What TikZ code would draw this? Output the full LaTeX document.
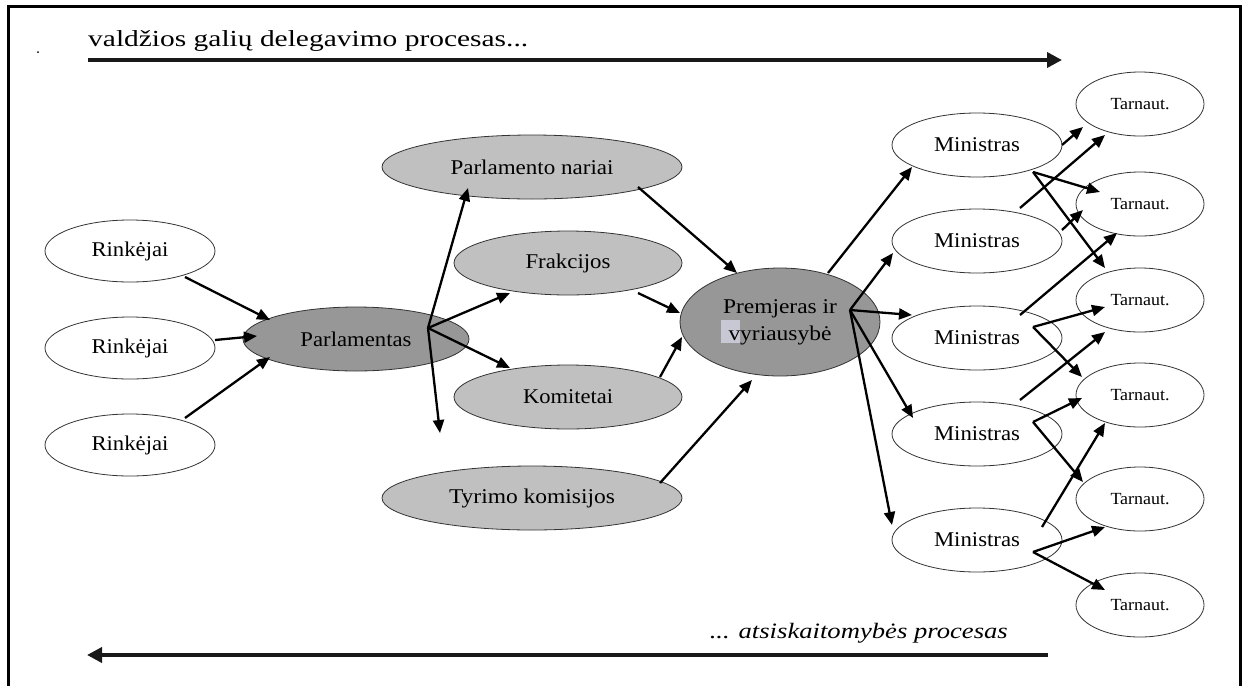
\documentclass[tikz,border=0pt]{standalone}
\usepackage{fontspec}
\setmainfont{Liberation Serif}
\usetikzlibrary{shapes.geometric,arrows.meta,calc}
\definecolor{dk}{HTML}{979797}
\definecolor{lt}{HTML}{C0C0C0}
\definecolor{hl}{HTML}{C8C8D4}
\newcommand{\sw}[2]{\resizebox{#1pt}{\height}{#2}}
\begin{document}
\begin{tikzpicture}[x=1pt,y=-1pt,
  ell/.style={ellipse,draw=black!80,line width=0.8pt,inner sep=0pt,font=\fontsize{21}{27}\selectfont},
  wnode/.style={ell,fill=white},
  dnode/.style={ell,fill=dk},
  lnode/.style={ell,fill=lt},
  tnode/.style={ell,fill=white,minimum width=128,minimum height=64,font=\fontsize{17}{18}\selectfont},
  mnode/.style={wnode,minimum width=170,minimum height=64},
  rnode/.style={wnode,minimum width=170,minimum height=62},
  arr/.style={line width=2.3pt,-{Triangle[length=13pt,width=11pt]}},
  bigarr/.style={line width=3.6pt,black!90,-{Triangle[length=15pt,width=15pt]}}]
\useasboundingbox (0,0) rectangle (1243,686);
% frame
\draw[line width=3pt] (8,686) -- (8,6) -- (1240,6) -- (1240,686);
\fill (38,52) circle (1pt);
% title and process arrows
\node[anchor=base west,inner sep=0pt,font=\fontsize{23}{25}\selectfont] (title) at (88,46) {\sw{440}{valdžios galių delegavimo procesas...}};
\coordinate (a1) at (88,60);
\coordinate (a2) at (1062,60);
\draw[bigarr] (a1) -- (a2);
\node[anchor=base east,inner sep=0pt,font=\fontsize{22}{24}\selectfont\itshape] (acc) at (1008,638) {\sw{298}{... atsiskaitomybės procesas}};
\coordinate (b1) at (1048,655);
\coordinate (b2) at (87,655);
\draw[bigarr] (b1) -- (b2);
% nodes
\node[rnode] (r1) at (130,251) {\sw{77}{Rinkėjai}};
\node[rnode] (r2) at (130,348) {\sw{77}{Rinkėjai}};
\node[rnode] (r3) at (130,445) {\sw{77}{Rinkėjai}};
\node[dnode,minimum width=226,minimum height=64] (parl) at (356,339) {\sw{111}{Parlamentas}};
\node[lnode,minimum width=300,minimum height=64] (pn) at (532,167) {\sw{163}{Parlamento nariai}};
\node[lnode,minimum width=228,minimum height=64] (fr) at (568,263) {\sw{85}{Frakcijos}};
\node[lnode,minimum width=228,minimum height=64] (ko) at (568,397) {\sw{90}{Komitetai}};
\node[lnode,minimum width=300,minimum height=64] (ty) at (532,498) {\sw{166}{Tyrimo komisijos}};
\node[dnode,minimum width=200,minimum height=108,align=center,
  path picture={\fill[hl] ($(path picture bounding box.center)+(-59,-2)$) rectangle +(19,23);}]
  (pm) at (780,322) {\sw{114}{Premjeras ir}\\\sw{103}{vyriausybė}};
\node[mnode] (m1) at (977,145) {\sw{86}{Ministras}};
\node[mnode] (m2) at (977,241) {\sw{86}{Ministras}};
\node[mnode] (m3) at (977,338) {\sw{86}{Ministras}};
\node[mnode] (m4) at (977,434) {\sw{86}{Ministras}};
\node[mnode] (m5) at (977,540) {\sw{86}{Ministras}};
\node[tnode] (t1) at (1140,104) {\sw{59}{Tarnaut.}};
\node[tnode] (t2) at (1140,204) {\sw{59}{Tarnaut.}};
\node[tnode] (t3) at (1140,300) {\sw{59}{Tarnaut.}};
\node[tnode] (t4) at (1140,395) {\sw{59}{Tarnaut.}};
\node[tnode] (t5) at (1140,499) {\sw{59}{Tarnaut.}};
\node[tnode] (t6) at (1140,605) {\sw{59}{Tarnaut.}};
% junctions
\coordinate (pj) at ($(parl)+(72,-11)$);
\coordinate (pdown) at ($(parl)+(84,94)$);
\coordinate (qj) at ($(pm)+(70,-12)$);
\coordinate (mj1) at ($(m1)+(56,27)$);
\coordinate (mj3) at ($(m3)+(56,-11)$);
\coordinate (mj4) at ($(m4)+(56,-12)$);
\coordinate (mj5) at ($(m5)+(56,12)$);
% voters -> parliament
\draw[arr] ($(r1)+(55,26)$) -- ($(parl)+(-86,-19)$);
\draw[arr] ($(r2)+(85,-8)$) -- ($(parl)+(-99,-3)$);
\draw[arr] ($(r3)+(55,-27)$) -- ($(parl)+(-86,18)$);
% parliament -> bodies
\draw[arr] (pj) -- ($(pn)+(-64,21)$);
\draw[arr] (pj) -- (pdown);
\draw[arr] (pj) -- ($(fr)+(-58,30)$);
\draw[arr] (pj) -- ($(ko)+(-58,-29)$);
% bodies -> government
\draw[arr] ($(pn)+(106,20)$) -- ($(pm)+(-43,-49)$);
\draw[arr] ($(fr)+(70,30)$) -- ($(pm)+(-100,-9)$);
\draw[arr] ($(ko)+(92,-20)$) -- ($(pm)+(-98,15)$);
\draw[arr] ($(ty)+(128,-15)$) -- ($(pm)+(-28,58)$);
% government -> ministers
\draw[arr] ($(pm)+(48,-49)$) -- ($(m1)+(-65,22)$);
\draw[arr] (qj) -- ($(m2)+(-84,12)$);
\draw[arr] (qj) -- ($(m3)+(-65,-23)$);
\draw[arr] (qj) -- ($(m4)+(-64,-16)$);
\draw[arr] (qj) -- ($(m5)+(-85,-15)$);
% ministers -> officials
\draw[arr] ($(m1)+(85,0)$) -- ($(t1)+(-57,23)$);
\draw[arr] ($(m2)+(43,-33)$) -- ($(t1)+(-35,31)$);
\draw[arr] (mj1) -- ($(t2)+(-40,-12)$);
\draw[arr] (mj1) -- ($(t3)+(-35,-32)$);
\draw[arr] ($(m2)+(85,-11)$) -- ($(t2)+(-57,6)$);
\draw[arr] ($(m3)+(43,-23)$) -- ($(t2)+(-23,29)$);
\draw[arr] (mj3) -- ($(t3)+(-35,7)$);
\draw[arr] (mj3) -- ($(t4)+(-58,-18)$);
\draw[arr] ($(m4)+(43,-34)$) -- ($(t3)+(-35,32)$);
\draw[arr] (mj4) -- ($(t4)+(-58,3)$);
\draw[arr] (mj4) -- ($(t5)+(-57,-17)$);
\draw[arr] ($(m5)+(65,-13)$) -- ($(t4)+(-35,28)$);
\draw[arr] (mj5) -- ($(t5)+(-35,28)$);
\draw[arr] (mj5) -- ($(t6)+(-35,-15)$);
\end{tikzpicture}
\end{document}
